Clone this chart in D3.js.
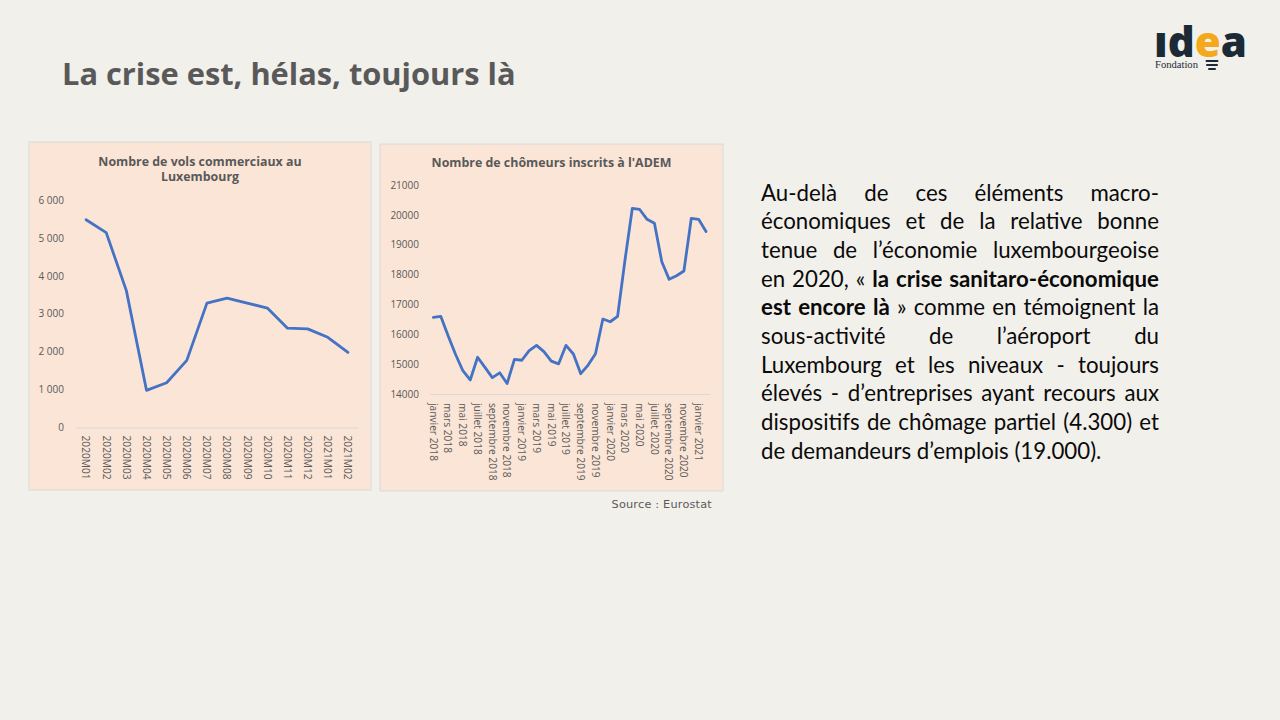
<!DOCTYPE html>
<html><head><meta charset="utf-8">
<script src="https://cdn.jsdelivr.net/npm/d3@7"></script>
<style>html,body{margin:0;padding:0;background:#f2f0eb;overflow:hidden} svg{display:block}</style>
</head><body>
<svg id="c" width="1280" height="720"></svg>
<script>
// ---------- DATA ----------
const flightMonths = ["2020M01","2020M02","2020M03","2020M04","2020M05","2020M06","2020M07",
  "2020M08","2020M09","2020M10","2020M11","2020M12","2021M01","2021M02"];
const flightValues = [5480, 5140, 3610, 980, 1180, 1770, 3280, 3410, 3280, 3150, 2620, 2600, 2380, 1980];
const flightTicks = [0, 1000, 2000, 3000, 4000, 5000, 6000];

const ademMonths = [
  "janvier 2018","février 2018","mars 2018","avril 2018","mai 2018","juin 2018",
  "juillet 2018","août 2018","septembre 2018","octobre 2018","novembre 2018","décembre 2018",
  "janvier 2019","février 2019","mars 2019","avril 2019","mai 2019","juin 2019",
  "juillet 2019","août 2019","septembre 2019","octobre 2019","novembre 2019","décembre 2019",
  "janvier 2020","février 2020","mars 2020","avril 2020","mai 2020","juin 2020",
  "juillet 2020","août 2020","septembre 2020","octobre 2020","novembre 2020","décembre 2020",
  "janvier 2021","février 2021"];
const ademValues = [16570, 16600, 15950, 15330, 14780, 14470, 15230, 14890, 14550, 14710, 14350, 15160,
  15130, 15450, 15630, 15420, 15100, 15010, 15630, 15340, 14680, 14970, 15350, 16510,
  16420, 16600, 18480, 20220, 20180, 19850, 19720, 18430, 17840, 17960, 18120, 19880,
  19850, 19440];
const ademTicks = [14000, 15000, 16000, 17000, 18000, 19000, 20000, 21000];
const ademTickLabels = ademMonths.filter((d, i) => i % 2 === 0);

const pageTitle = "La crise est, hélas, toujours là";
const flightTitle = ["Nombre de vols commerciaux au", "Luxembourg"];
const ademTitle = ["Nombre de chômeurs inscrits à l'ADEM"];
const sourceText = "Source : Eurostat";
const bodyLines = [
  "Au-delà de ces éléments macro-",
  "économiques et de la relative bonne",
  "tenue de l’économie luxembourgeoise",
  "en 2020, « **la crise sanitaro-économique**",
  "**est encore là** » comme en témoignent la",
  "sous-activité de l’aéroport du",
  "Luxembourg et les niveaux - toujours",
  "élevés - d’entreprises ayant recours aux",
  "dispositifs de chômage partiel (4.300) et",
  "de demandeurs d’emplois (19.000)."
];

// ---------- DRAW ----------
const svg = d3.select("#c");
const GREY = "#595959";
const AXISFONT = "'Open Sans', sans-serif";

svg.append("rect").attr("width", 1280).attr("height", 720).attr("fill", "#f2f0eb");

svg.append("text").attr("x", 62).attr("y", 85)
  .attr("font-family", AXISFONT).attr("font-weight", 700).attr("font-size", 30.8)
  .attr("fill", GREY).text(pageTitle);

function panel(cfg) {
  const g = svg.append("g");
  g.append("rect").attr("x", cfg.box[0]).attr("y", cfg.box[1])
    .attr("width", cfg.box[2]).attr("height", cfg.box[3])
    .attr("fill", "#fbe5d6").attr("stroke", "#d9d9d9").attr("stroke-width", 1);

  cfg.title.forEach((t, i) => {
    g.append("text").attr("x", cfg.titleX).attr("y", cfg.titleY + i * 14.5)
      .attr("text-anchor", "middle").attr("font-family", AXISFONT)
      .attr("font-weight", 700).attr("font-size", 12.4).attr("fill", GREY).text(t);
  });

  const x = d3.scaleBand().domain(cfg.cats).range(cfg.xRange);
  const y = d3.scaleLinear().domain(cfg.yDomain).range(cfg.yRange);

  const ya = g.append("g").attr("transform", `translate(${cfg.yLabelX},0)`)
    .call(d3.axisLeft(y).tickValues(cfg.ticks).tickSize(0).tickPadding(0).tickFormat(cfg.fmt));
  ya.select(".domain").remove();
  ya.selectAll("text").attr("font-family", AXISFONT).attr("font-size", 10).attr("fill", GREY);

  const xa = g.append("g").attr("transform", `translate(0,${cfg.yRange[0]})`)
    .call(d3.axisBottom(x).tickValues(cfg.xTicks).tickSize(0).tickSizeOuter(0));
  xa.select(".domain").attr("stroke", "#d9d9d9").attr("stroke-width", 1);
  xa.selectAll("text")
    .attr("y", 0).attr("x", cfg.labelGap).attr("dy", "0.36em")
    .attr("transform", "rotate(90)").style("text-anchor", "start")
    .attr("font-family", AXISFONT).attr("font-size", 10.2).attr("fill", GREY);

  const line = d3.line().x((d, i) => x(cfg.cats[i]) + x.bandwidth() / 2).y(d => y(d));
  g.append("path").datum(cfg.values).attr("d", line)
    .attr("fill", "none").attr("stroke", "#4472c4").attr("stroke-width", 2.8)
    .attr("stroke-linejoin", "round").attr("stroke-linecap", "round");
}

panel({
  box: [29, 142, 342, 348], title: flightTitle, titleX: 200, titleY: 166,
  cats: flightMonths, values: flightValues, xTicks: flightMonths,
  xRange: [76, 358], yDomain: [0, 6000], yRange: [427.5, 200], ticks: flightTicks,
  fmt: d => d3.format(",")(d).replace(/,/g, " "), yLabelX: 64, labelGap: 8
});

panel({
  box: [380, 144, 343, 347], title: ademTitle, titleX: 551.5, titleY: 167,
  cats: ademMonths, values: ademValues, xTicks: ademTickLabels,
  xRange: [429.7, 709.7], yDomain: [14000, 21000], yRange: [394, 185], ticks: ademTicks,
  fmt: d => String(d), yLabelX: 419, labelGap: 9
});

svg.append("text").attr("x", 712).attr("y", 508).attr("text-anchor", "end")
  .attr("font-family", "'DejaVu Sans', sans-serif").attr("font-size", 11.3)
  .attr("letter-spacing", 0.2).attr("fill", GREY).text(sourceText);

// ---------- BODY TEXT (justified) ----------
const BODY_FONT = "Lato, sans-serif";
const textLeft = 761, textRight = 1159, firstBase = 200.7, lineH = 28.65;
const parsed = bodyLines.map(l => {
  let bold = false;
  return l.split(" ").map(w => {
    let b = bold;
    if (w.startsWith("**")) { w = w.slice(2); b = true; bold = true; }
    if (w.endsWith("**")) { w = w.slice(0, -2); bold = false; }
    return { w, b };
  });
});
const meas = svg.append("g");
function measure(str, bold, size) {
  const t = meas.append("text").attr("font-family", BODY_FONT).attr("font-size", size)
    .attr("font-weight", bold ? 700 : 400).text(str);
  const w = t.node().getComputedTextLength(); t.remove(); return w;
}
function spaceW(size) { return measure("x x", false, size) - measure("xx", false, size); }
let base = 22;
function natural(words, size) {
  return d3.sum(words, d => measure(d.w, d.b, size)) + spaceW(size) * (words.length - 1);
}
let size = base * 344 / natural(parsed[parsed.length - 1], base);
const maxNat = d3.max(parsed.slice(0, -1), l => natural(l, size));
if (maxNat > (textRight - textLeft) - 6) size *= ((textRight - textLeft) - 6) / maxNat;

const body = svg.append("g");
parsed.forEach((words, li) => {
  const widths = words.map(d => measure(d.w, d.b, size));
  const last = li === parsed.length - 1;
  const gap = last ? spaceW(size) : ((textRight - textLeft) - d3.sum(widths)) / (words.length - 1);
  let cx = textLeft;
  words.forEach((d, i) => {
    body.append("text").attr("x", cx).attr("y", firstBase + li * lineH)
      .attr("font-family", BODY_FONT).attr("font-size", size)
      .attr("font-weight", d.b ? 700 : 400).attr("fill", "#0a0a0a").text(d.w);
    cx += widths[i] + gap;
  });
});
meas.remove();

// ---------- LOGO ----------
const logo = svg.append("g");
const lt = logo.append("text").attr("x", 1154).attr("y", 57)
  .attr("font-family", "'Open Sans', sans-serif").attr("font-weight", 800).attr("font-size", 42);
lt.append("tspan").attr("fill", "#1b2a35").text("ıd");
lt.append("tspan").attr("fill", "#f5a81c").text("e");
lt.append("tspan").attr("fill", "#1b2a35").text("a");
logo.append("text").attr("x", 1155).attr("y", 68)
  .attr("font-family", "'Liberation Serif', serif").attr("font-size", 10.6)
  .attr("fill", "#1b2a35").text("Fondation");
[[61, 11], [65, 10], [69, 6]].forEach(([yy, w]) => {
  logo.append("line").attr("x1", 1212 - w / 2).attr("x2", 1212 + w / 2)
    .attr("y1", yy).attr("y2", yy).attr("stroke", "#1b2a35").attr("stroke-width", 2)
    .attr("stroke-linecap", "round");
});
</script>
</body></html>
